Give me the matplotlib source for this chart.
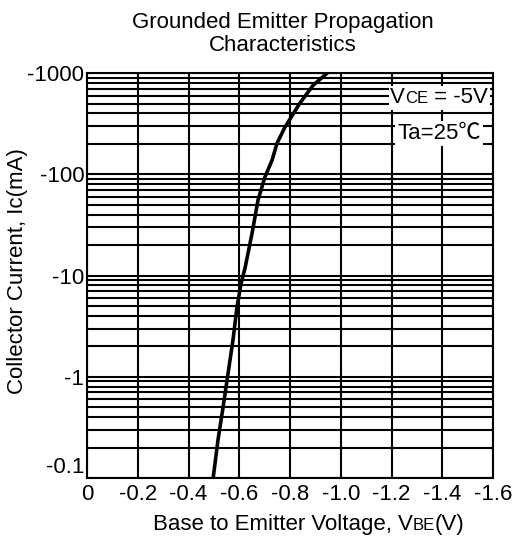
import numpy as np
import matplotlib.pyplot as plt
from matplotlib.offsetbox import TextArea, HPacker, AnchoredOffsetbox

plt.rcParams['font.family'] = ['Liberation Sans', 'DejaVu Sans']

## data (Vbe in V, Ic in mA, both magnitudes)
vbe = [0.497, 0.516, 0.536, 0.556, 0.575, 0.591, 0.607, 0.623, 0.650,
       0.674, 0.701, 0.729, 0.749, 0.780, 0.839, 0.891, 0.946]
ic = [0.1, 0.237, 0.50, 1.09, 2.3, 4.9, 8.4, 12, 26,
      56, 94, 138, 204, 293, 506, 760, 1000]

x_ticks = [0, 0.2, 0.4, 0.6, 0.8, 1.0, 1.2, 1.4, 1.6]
x_labels = ['0', '-0.2', '-0.4', '-0.6', '-0.8', '-1.0', '-1.2', '-1.4', '-1.6']
y_ticks = [0.1, 1, 10, 100, 1000]
y_labels = ['-0.1', '-1', '-10', '-100', '-1000']

fs = 16

fig = plt.figure(figsize=(5.12, 5.38), dpi=100)
ax = fig.add_axes([0.170, 0.1115, 0.793, 0.7525])

ax.set_yscale('log')
ax.set_xlim(0, 1.6)
ax.set_ylim(0.1, 1000)

lw = 1.5
ax.grid(True, which='major', color='black', lw=lw)
ax.grid(True, which='minor', axis='y', color='black', lw=lw)
ax.set_axisbelow(True)
for s in ax.spines.values():
    s.set_linewidth(lw)

ax.set_xticks(x_ticks)
ax.set_xticklabels(x_labels)
ax.set_yticks(y_ticks)
ax.set_yticklabels(y_labels)
ax.tick_params(which='both', length=0, labelsize=fs)
ax.tick_params(axis='x', pad=4)
ax.tick_params(axis='y', pad=2)
# bottom label sits above its line, like the datasheet
ax.get_yticklabels()[0].set_va('bottom')

ax.plot(vbe, ic, color='black', lw=2.6, zorder=3)

ax.set_ylabel('Collector Current, Ic(mA)', fontsize=fs)
ax.yaxis.set_label_coords(-0.145, 0.51)

fig.text(0.553, 0.978, 'Grounded Emitter Propagation\nCharacteristics',
         ha='center', va='top', fontsize=fs, linespacing=1.15)

## x label with small BE
xl = HPacker(children=[TextArea('Base to Emitter Voltage, V', textprops=dict(fontsize=fs)),
                       TextArea('BE', textprops=dict(fontsize=12)),
                       TextArea('(V)', textprops=dict(fontsize=fs))],
             align='baseline', pad=0, sep=0)
ab = AnchoredOffsetbox(loc='center', child=xl, frameon=False,
                       bbox_to_anchor=(0.603, 0.025), bbox_transform=fig.transFigure)
fig.add_artist(ab)

## condition boxes
vce = HPacker(children=[TextArea('V', textprops=dict(fontsize=fs)),
                        TextArea('CE', textprops=dict(fontsize=12)),
                        TextArea(' = -5V', textprops=dict(fontsize=fs))],
              align='baseline', pad=0, sep=0)
ab2 = AnchoredOffsetbox(loc='center', child=vce, frameon=True, pad=0.12, borderpad=0,
                        bbox_to_anchor=(0.858, 0.818), bbox_transform=fig.transFigure)
ab2.patch.set_edgecolor('none')
ab2.patch.set_facecolor('white')
ab2.set_zorder(4)
ax.add_artist(ab2)

ax.text(0.858, 0.752, 'Ta=25℃', transform=fig.transFigure, ha='center', va='center',
        fontsize=fs, zorder=4, family=['Liberation Sans', 'Noto Sans CJK JP'],
        bbox=dict(facecolor='white', edgecolor='none', pad=1.5))

fig.savefig('out.png', dpi=100)
